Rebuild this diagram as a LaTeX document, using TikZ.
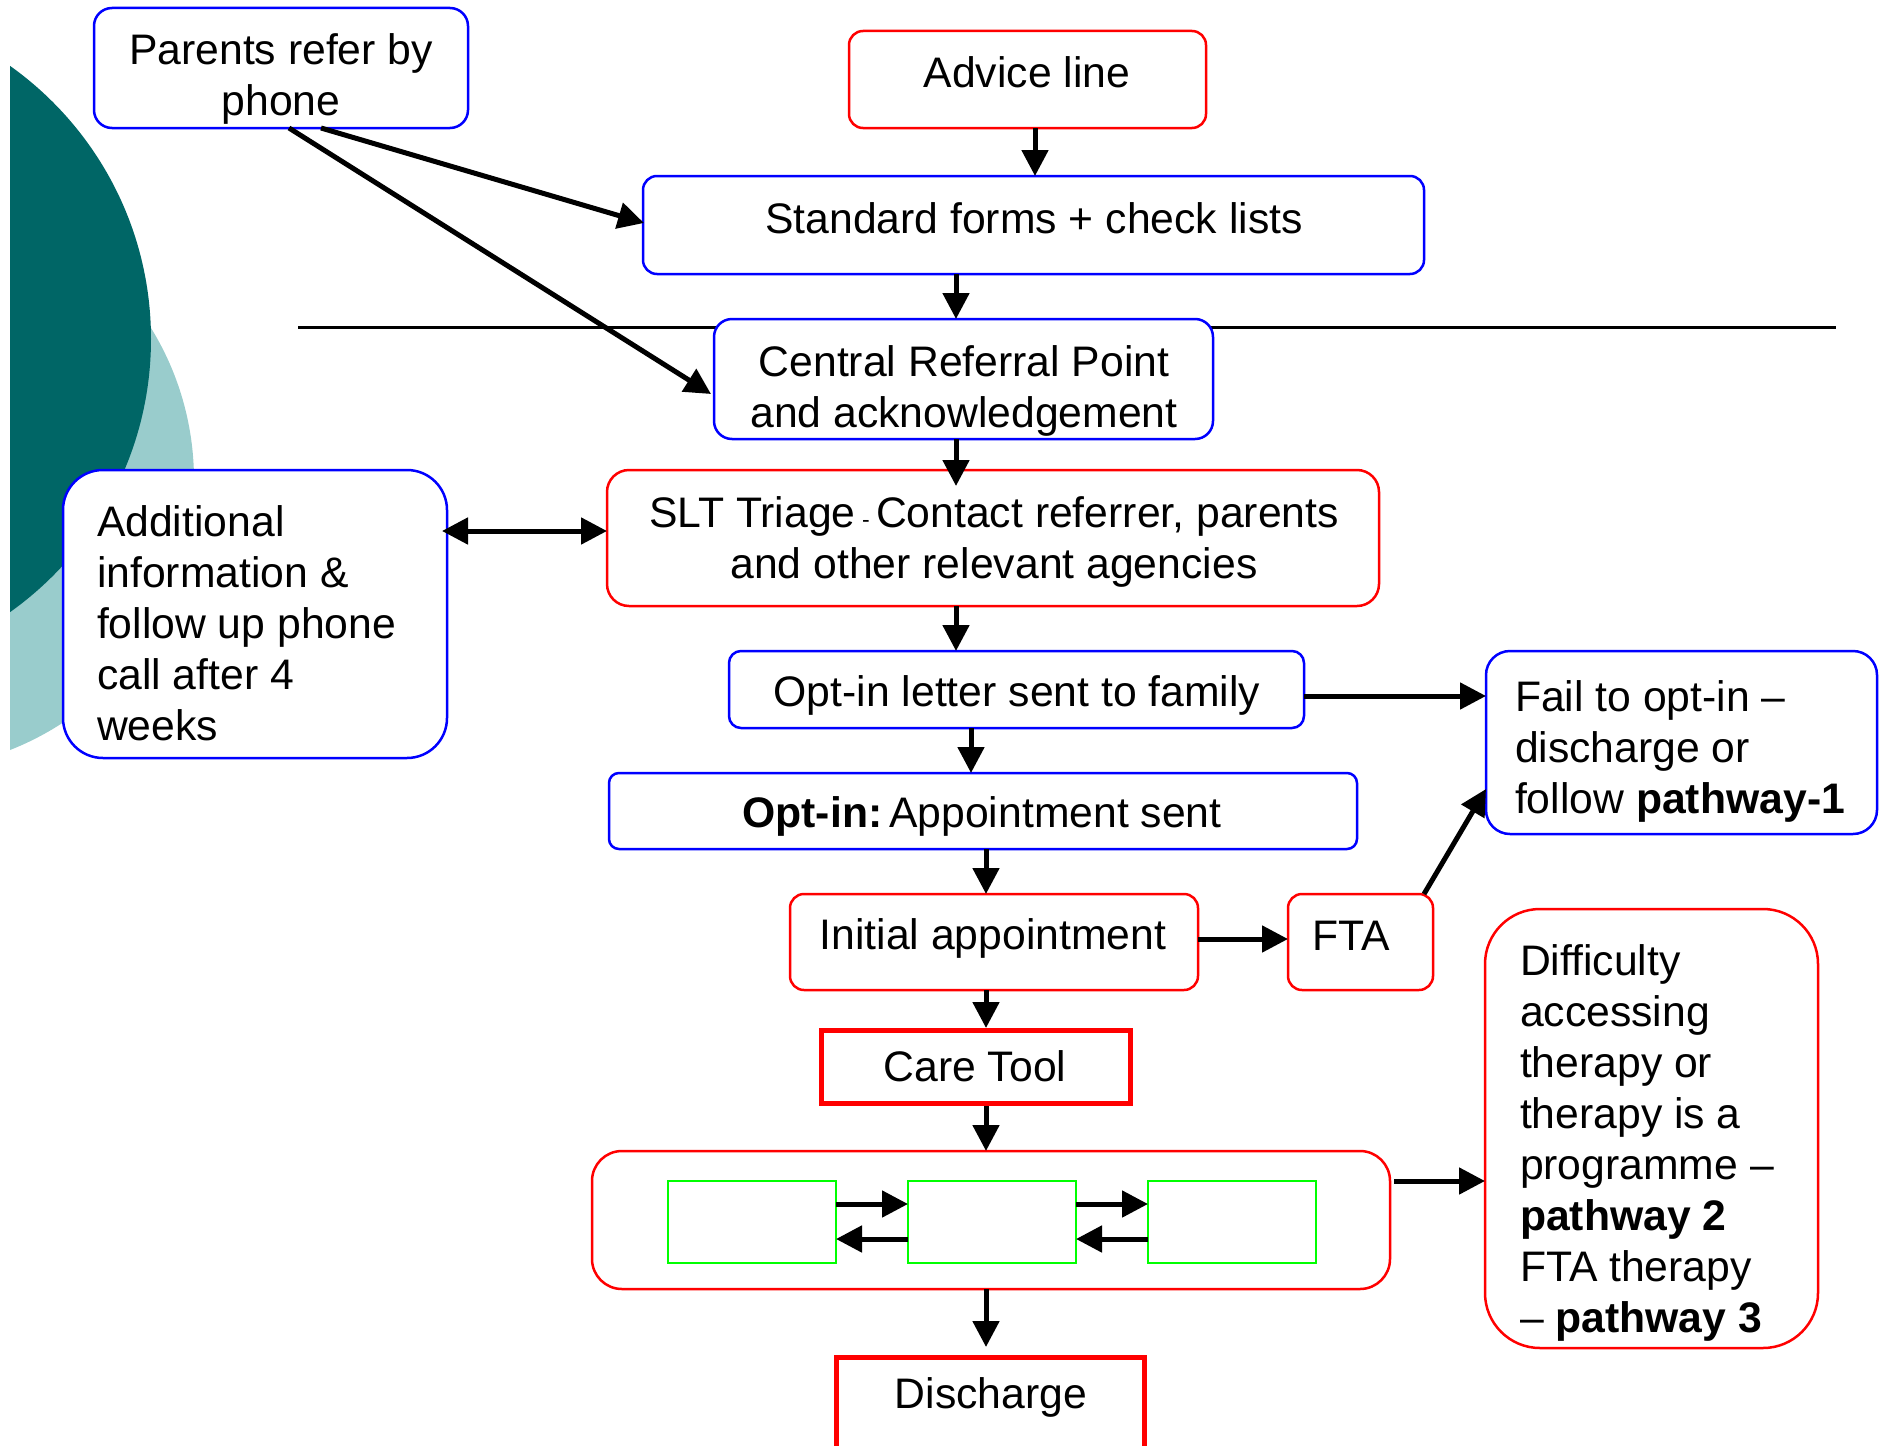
\documentclass[tikz,border=0pt]{standalone}
\usepackage{fontspec}
\setmainfont{Liberation Sans}
\usetikzlibrary{arrows.meta,calc}
\newcommand\myfs{\fontsize{42.7}{51}\selectfont}
\definecolor{tealdark}{RGB}{0,102,102}
\definecolor{teallight}{RGB}{153,204,204}
\begin{document}
\begin{tikzpicture}[x=1pt,y=-1pt,
  bx/.style={draw, fill=white, line width=2.5pt, inner sep=0pt, outer sep=0pt},
  bluebx/.style={bx, draw=blue},
  redbx/.style={bx, draw=red},
  thickred/.style={bx, draw=red, line width=5pt},
  grn/.style={draw=green, line width=2.5pt, inner sep=0pt, outer sep=0pt},
  txt/.style={inner sep=0pt, outer sep=0pt, font=\myfs, execute at begin node=\strut},
  arr/.style={line width=5pt, -{Triangle[length=26pt,width=26pt]}},
  darr/.style={line width=5pt, {Triangle[length=26pt,width=26pt]}-{Triangle[length=26pt,width=26pt]}}
]
\useasboundingbox (0,0) rectangle (1881,1445);
\clip (0,0) rectangle (1881,1445);

% background decoration
\begin{scope}
  \clip (10,0) rectangle (400,1445);
  \fill[teallight] (-96,480) circle[radius=290];
  \fill[tealdark] (-184,339) circle[radius=335];
\end{scope}

% separator line
\draw[line width=3pt] (298,327) -- (1836,327);

% boxes
\node[bluebx, rounded corners=18pt, minimum width=374pt, minimum height=120pt] (parents) at (281,68) {};
\node[redbx, rounded corners=14pt, minimum width=357pt, minimum height=97pt] (advice) at (1027.5,79.5) {};
\node[bluebx, rounded corners=14pt, minimum width=781pt, minimum height=98pt] (std) at (1033.5,225) {};
\node[bluebx, rounded corners=18pt, minimum width=499pt, minimum height=120pt] (central) at (963.5,379) {};
\node[redbx, rounded corners=22pt, minimum width=772pt, minimum height=136pt] (slt) at (993,538) {};
\node[bluebx, rounded corners=40pt, minimum width=384pt, minimum height=288pt] (addl) at (255,614) {};
\node[bluebx, rounded corners=12pt, minimum width=575pt, minimum height=77pt] (optletter) at (1016.5,689.5) {};
\node[bluebx, rounded corners=24pt, minimum width=391pt, minimum height=183pt] (fail) at (1681.5,742.5) {};
\node[bluebx, rounded corners=10pt, minimum width=748pt, minimum height=76pt] (optappt) at (983,811) {};
\node[redbx, rounded corners=14pt, minimum width=408pt, minimum height=96pt] (initial) at (994,942) {};
\node[redbx, rounded corners=14pt, minimum width=145pt, minimum height=96pt] (fta) at (1360.5,942) {};
\node[redbx, rounded corners=55pt, minimum width=333pt, minimum height=439pt] (diff) at (1651.5,1128.5) {};
\node[thickred, minimum width=309pt, minimum height=73pt] (care) at (976,1067) {};
\node[redbx, rounded corners=30pt, minimum width=798pt, minimum height=138pt] (cont) at (991,1220) {};
\node[grn, minimum width=168pt, minimum height=82pt] (g1) at (752,1222) {};
\node[grn, minimum width=168pt, minimum height=82pt] (g2) at (992,1222) {};
\node[grn, minimum width=168pt, minimum height=82pt] (g3) at (1232,1222) {};
\node[thickred, minimum width=308pt, minimum height=200pt] (discharge) at (990.5,1457.5) {};

% texts
\node[txt, anchor=north, align=center] (parentsT) at (281,28.3) {\strut Parents refer by\\phone};
\node[txt, anchor=north, align=center] (adviceT) at (1027,51.3) {Advice line};
\node[txt, anchor=north, align=center] (stdT) at (1034,197.3) {Standard forms + check lists};
\node[txt, anchor=north, align=center] (centralT) at (964,340.3) {\strut Central Referral Point\\and acknowledgement};
\node[txt, anchor=north, align=center] (sltT) at (994,491.3) {\strut SLT Triage{\fontsize{23}{23}\selectfont{} - }Contact referrer, parents\\and other relevant agencies};
\node[txt, anchor=north west, align=left] (addlT) at (97,500.3) {\strut Additional\\information \&\\follow up phone\\call after 4\\weeks};
\node[txt, anchor=north, align=center] (optletterT) at (1017,670.3) {Opt-in letter sent to family};
\node[txt, anchor=north west, align=left] (failT) at (1515,675.3) {\strut Fail to opt-in –\\discharge or\\follow \textbf{pathway-1}};
\node[txt, anchor=north, align=center] (optapptT) at (982,792) {\textbf{Opt-in:}\kern-5pt\ Appointment sent};
\node[txt, anchor=north, align=center] (initialT) at (993,914) {Initial appointment};
\node[txt, anchor=north, align=center] (ftaT) at (1351,914.5) {FTA};
\node[txt, anchor=north west, align=left] (diffT) at (1520,939.3) {\strut Difficulty\\accessing\\therapy or\\therapy is a\\programme –\\\textbf{pathway 2}\\FTA therapy\\– \textbf{pathway 3}};
\node[txt, anchor=north, align=center] (careT) at (975,1045.3) {Care Tool};
\node[txt, anchor=north, align=center] (dischargeT) at (991,1372.3) {Discharge};

% connectors
\draw[arr] ($(parents.south)+(40,0)$) -- ($(std.west)+(1,-2)$);
\draw[arr] ($(parents.south)+(8,0)$) -- ($(central.west)+(-3,15)$);
\draw[arr] ($(advice.south)+(7.5,0)$) -- ($(std.north)+(1.5,0)$);
\draw[arr] ($(std.south)+(-77.5,0)$) -- ($(central.north)+(-7.5,0)$);
\draw[arr] ($(central.south)+(-7.5,0)$) -- ($(slt.north)+(-37,16)$);
\draw[arr] ($(slt.south)+(-37,0)$) -- ($(optletter.north)+(-60.5,0)$);
\draw[arr] ($(optletter.south)+(-45.5,0)$) -- ($(optappt.north)+(-12,0)$);
\draw[arr] ($(optappt.south)+(3,0)$) -- ($(initial.north)+(-8,0)$);
\draw[arr] ($(initial.south)+(-8,0)$) -- ($(care.north)+(10,-2.5)$);
\draw[arr] ($(care.south)+(10,2.5)$) -- ($(cont.north)+(-5,0)$);
\draw[arr] ($(cont.south)+(-5,0)$) -- ($(discharge.north)+(-4.5,-10.5)$);
\draw[darr] ($(addl.east)+(-5,-83)$) -- ($(slt.west)+(0,-7)$);
\draw[arr] ($(optletter.east)+(0,6.5)$) -- ($(fail.west)+(0,-46.5)$);
\draw[arr] ($(initial.east)+(0,-3)$) -- ($(fta.west)+(0,-3)$);
\draw[arr] ($(fta.north east)+(-9,0)$) -- ($(fail.south west)+(0,-45)$);
\draw[arr] ($(cont.east)+(4,-39)$) -- ($(diff.west)+(0,52.5)$);
\draw[arr] ($(g1.east)+(0,-18)$) -- ($(g2.west)+(0,-18)$);
\draw[arr] ($(g2.west)+(0,17)$) -- ($(g1.east)+(0,17)$);
\draw[arr] ($(g2.east)+(0,-18)$) -- ($(g3.west)+(0,-18)$);
\draw[arr] ($(g3.west)+(0,17)$) -- ($(g2.east)+(0,17)$);
\end{tikzpicture}
\end{document}
